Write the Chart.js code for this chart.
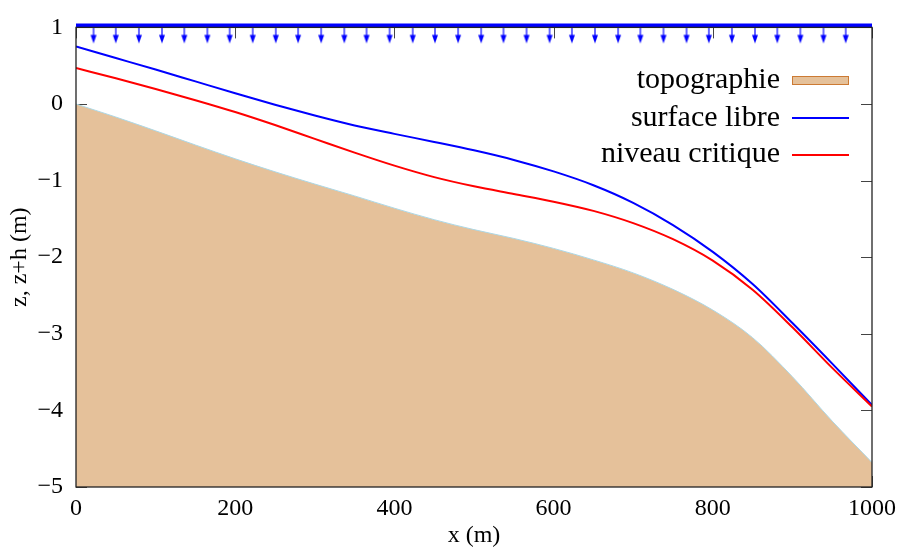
<!DOCTYPE html>
<html>
<head>
<meta charset="utf-8">
<script src="https://cdn.jsdelivr.net/npm/chart.js@4"></script>
<style>
  html, body { margin: 0; padding: 0; background: #fff; }
</style>
</head>
<body>
<canvas id="grafica" width="903" height="548"></canvas>
<script>
// valeurs
const xValues = [0, 50, 100, 150, 200, 250, 300, 350, 400, 450, 500, 550, 600, 650, 700, 750, 800, 850, 900, 950, 1000];
const topographie = [0, -0.17, -0.35, -0.535, -0.715, -0.885, -1.045, -1.20, -1.36, -1.51, -1.64, -1.755, -1.885, -2.035, -2.205, -2.42, -2.69, -3.05, -3.56, -4.14, -4.68];
const surfaceLibre = [0.75, 0.60, 0.45, 0.295, 0.14, -0.01, -0.15, -0.28, -0.39, -0.495, -0.605, -0.73, -0.88, -1.06, -1.29, -1.58, -1.93, -2.35, -2.86, -3.39, -3.93];
const niveauCritique = [0.47, 0.335, 0.195, 0.05, -0.105, -0.275, -0.455, -0.635, -0.805, -0.955, -1.075, -1.175, -1.275, -1.395, -1.555, -1.765, -2.045, -2.425, -2.915, -3.445, -3.95];

// fleches de pluie (x) et niveau de la ligne de pluie
const pluieX = [22, 50, 79, 108, 136, 165, 193, 222, 251, 279, 308, 337, 365, 394, 423, 451, 480,
  509, 537, 566, 595, 623, 652, 681, 709, 738, 767, 795, 824, 853, 881, 910, 939, 967];
const pluieY = 1.025;

const xTicks = [0, 200, 400, 600, 800, 1000];
const yTicks = [1, 0, -1, -2, -3, -4, -5];
const legendLabels = ["topographie", "surface libre", "niveau critique"];

const serif = "'Liberation Serif', 'Times New Roman', serif";

function points(ys) {
  let pts = [];
  for (let i = 0; i < xValues.length; i++) {
    pts.push({ x: xValues[i], y: ys[i] });
  }
  return pts;
}

// petite fleche vers le bas, le centre du canvas = point de la donnee
function flecheCanvas() {
  let c = document.createElement("canvas");
  c.width = 12;
  c.height = 36;
  let g = c.getContext("2d");
  g.strokeStyle = "#0000ff";
  g.fillStyle = "#0000ff";
  g.lineWidth = 1.2;
  g.beginPath();
  g.moveTo(6, 18);
  g.lineTo(6, 27);
  g.stroke();
  g.beginPath();
  g.moveTo(3, 25.5);
  g.lineTo(9, 25.5);
  g.lineTo(6, 34);
  g.closePath();
  g.fill();
  return c;
}

const cadre = {
  id: "cadre",
  beforeDatasetsDraw(chart) {
    const { ctx, chartArea: a, scales } = chart;
    ctx.save();
    ctx.strokeStyle = "#444";
    ctx.lineWidth = 1;
    ctx.beginPath();
    xTicks.forEach(v => {
      let px = Math.round(scales.x.getPixelForValue(v)) + 0.5;
      ctx.moveTo(px, a.bottom); ctx.lineTo(px, a.bottom - 11);
      ctx.moveTo(px, a.top); ctx.lineTo(px, a.top + 11);
    });
    yTicks.forEach(v => {
      let py = Math.round(scales.y.getPixelForValue(v)) + 0.5;
      ctx.moveTo(a.left, py); ctx.lineTo(a.left + 11, py);
      ctx.moveTo(a.right, py); ctx.lineTo(a.right - 11, py);
    });
    ctx.stroke();
    ctx.restore();
  },
  afterDatasetsDraw(chart) {
    const { ctx, chartArea: a } = chart;
    ctx.save();
    ctx.strokeStyle = "#222";
    ctx.lineWidth = 1.3;
    ctx.strokeRect(a.left, a.top, a.right - a.left, a.bottom - a.top);
    ctx.restore();
  },
  afterDraw(chart) {
    const ctx = chart.ctx;
    const baselines = [88, 125.5, 162];
    ctx.save();
    ctx.font = "30px " + serif;
    ctx.fillStyle = "#000";
    ctx.textAlign = "right";
    ctx.textBaseline = "alphabetic";
    legendLabels.forEach((t, i) => ctx.fillText(t, 780, baselines[i]));
    // topographie
    ctx.fillStyle = "rgb(229,193,154)";
    ctx.fillRect(792, 76, 57, 9);
    ctx.strokeStyle = "#cc7a33";
    ctx.lineWidth = 1;
    ctx.strokeRect(792.5, 76.5, 56, 8);
    ctx.lineWidth = 2;
    ctx.strokeStyle = "#0000ff";
    ctx.beginPath(); ctx.moveTo(792, 118); ctx.lineTo(849, 118); ctx.stroke();
    ctx.strokeStyle = "#ff0000";
    ctx.beginPath(); ctx.moveTo(792, 155); ctx.lineTo(849, 155); ctx.stroke();
    ctx.restore();
  }
};

new Chart("grafica", {
  type: "line",
  data: {
    datasets: [
      {
        label: legendLabels[2],
        data: points(niveauCritique),
        borderColor: "#ff0000",
        borderWidth: 2,
        pointRadius: 0,
        fill: false,
        cubicInterpolationMode: "monotone",
        order: 0
      },
      {
        label: legendLabels[1],
        data: points(surfaceLibre),
        borderColor: "#0000ff",
        borderWidth: 2,
        pointRadius: 0,
        fill: false,
        cubicInterpolationMode: "monotone",
        order: 1
      },
      {
        label: "pluie",
        data: [{ x: 0, y: pluieY }, { x: 1000, y: pluieY }],
        borderColor: "#0000ff",
        borderWidth: 4,
        pointRadius: 0,
        fill: false,
        clip: 8,
        order: 2
      },
      {
        label: "fleches",
        data: pluieX.map(v => ({ x: v, y: 1 })),
        showLine: false,
        pointStyle: flecheCanvas(),
        pointRadius: 6,
        order: 2
      },
      {
        label: legendLabels[0],
        data: points(topographie),
        borderColor: "#add8e6",
        borderWidth: 1,
        backgroundColor: "rgb(229,193,154)",
        pointRadius: 0,
        fill: "start",
        cubicInterpolationMode: "monotone",
        order: 3
      }
    ]
  },
  options: {
    responsive: false,
    animation: false,
    devicePixelRatio: 1,
    layout: { padding: { left: 0, right: 31, top: 22.5, bottom: 0 } },
    plugins: {
      legend: { display: false },
      tooltip: { enabled: false }
    },
    scales: {
      x: {
        type: "linear",
        min: 0,
        max: 1000,
        afterFit: s => { s.height = 61; },
        afterBuildTicks: s => { s.ticks = xTicks.map(v => ({ value: v })); },
        grid: { display: true, drawOnChartArea: false, drawTicks: false },
        border: { display: false },
        ticks: {
          color: "#000",
          padding: 7,
          maxRotation: 0,
          font: { family: serif, size: 24 },
          callback: v => String(v)
        },
        title: {
          display: true,
          text: "x (m)",
          color: "#000",
          font: { family: serif, size: 24, lineHeight: 1 },
          padding: { top: 0, bottom: 0 }
        }
      },
      y: {
        type: "linear",
        min: -5,
        max: 1,
        afterFit: s => { s.width = 76; },
        afterBuildTicks: s => { s.ticks = yTicks.map(v => ({ value: v })); },
        grid: { display: true, drawOnChartArea: false, drawTicks: false },
        border: { display: false },
        ticks: {
          color: "#000",
          padding: 13,
          font: { family: serif, size: 24 },
          callback: v => String(v).replace("-", "\u2212")
        },
        title: {
          display: true,
          text: "z, z+h (m)",
          color: "#000",
          font: { family: serif, size: 24, lineHeight: 1 },
          padding: { top: 8, bottom: 0 }
        }
      }
    }
  },
  plugins: [cadre]
});
</script>
</body>
</html>
